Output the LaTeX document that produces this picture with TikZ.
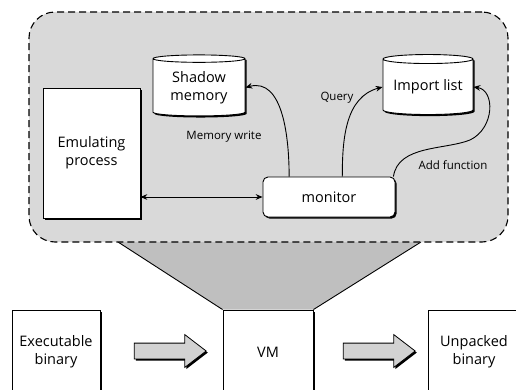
\documentclass[tikz,border=0pt]{standalone}
\usepackage{fontspec}
\setmainfont{Open Sans}
\usetikzlibrary{arrows.meta,positioning,calc,shapes.geometric,shapes.arrows,shadows,backgrounds}
\tikzset{
  procbox/.style={draw,fill=white,line width=0.9pt,align=center,inner sep=0pt,
    font=\fontsize{14.5}{18}\selectfont,
    drop shadow={shadow xshift=1.6pt,shadow yshift=-1.6pt,fill=black,opacity=1}},
  storebox/.style={procbox,cylinder,shape border rotate=90,aspect=0.13},
  zonebox/.style={draw,fill=gray!30,line width=1.1pt,dash pattern=on 7pt off 4pt,
    rounded corners=26pt},
  flowarrow/.style={-{Stealth[length=2.4mm,width=2mm]},line width=0.9pt},
  blockarrow/.style={single arrow,draw,fill=gray!35,line width=0.8pt,
    inner xsep=0pt,inner ysep=7.5pt,minimum height=72pt,single arrow head extend=8.5pt,
    single arrow tip angle=75,
    drop shadow={shadow xshift=1.6pt,shadow yshift=-1.6pt,fill=black,opacity=1}},
  edgelabel/.style={font=\fontsize{11.5}{14}\selectfont}
}

\begin{document}
\begin{tikzpicture}[x=1pt,y=-1pt]
  \clip (0,0) rectangle (516,390);
  \node[zonebox,minimum width=479pt,minimum height=230pt] (zone) at (268.5,127) {};
  \node[procbox,minimum width=97pt,minimum height=130pt] (emu) at (91.5,153) {Emulating\\process};
  \node[storebox,minimum width=92pt,minimum height=61pt] (shm) at (199,87.5) {Shadow\\memory};
  \node[storebox,minimum width=90pt,minimum height=60pt] (imp) at (428,87) {Import list};
  \node[procbox,rounded corners=5pt,minimum width=132pt,minimum height=40pt] (mon) at (329,197) {monitor};

  \node[procbox,minimum width=88pt,minimum height=84pt] (exe) at (56,352) {Executable\\binary};
  \node[procbox,minimum width=90pt,minimum height=84pt] (vm) at (268,352) {VM};
  \node[procbox,minimum width=92pt,minimum height=84pt] (unp) at (474,352) {Unpacked\\binary};
  \node[blockarrow] (feed) at (165,351) {};
  \node[blockarrow] (dump) at (374,351) {};

  % zoom out of the VM
  \begin{scope}[on background layer]
    \fill[gray!50] (118,242) -- (vm.north west) -- (vm.north east) -- (421,242) -- cycle;
    \draw[line width=0.9pt] (118,242) -- (vm.north west) (vm.north east) -- (421,242);
  \end{scope}

  \draw[flowarrow,{Stealth[length=2.4mm,width=2mm]}-{Stealth[length=2.4mm,width=2mm]}]
    (mon.west -| emu.east) -- (mon.west);
  \draw[flowarrow] ($(mon.north west)!0.2!(mon.north east)$) to[out=90,in=15] (shm.east);
  \draw[flowarrow] ($(mon.north west)!0.6!(mon.north east)$) to[out=90,in=195] (imp.west);
  \draw[flowarrow] ([xshift=-2pt]mon.north east) .. controls (398,145) and (445,150) .. (470,140)
    .. controls (495,128) and (495,90) .. (imp.east);

  \node[edgelabel] (mwlab) at (224,137) {Memory write};
  \node[edgelabel] (qlab) at (337,98) {Query};
  \node[edgelabel] (aflab) at (453,165) {Add function};
\end{tikzpicture}
\end{document}
